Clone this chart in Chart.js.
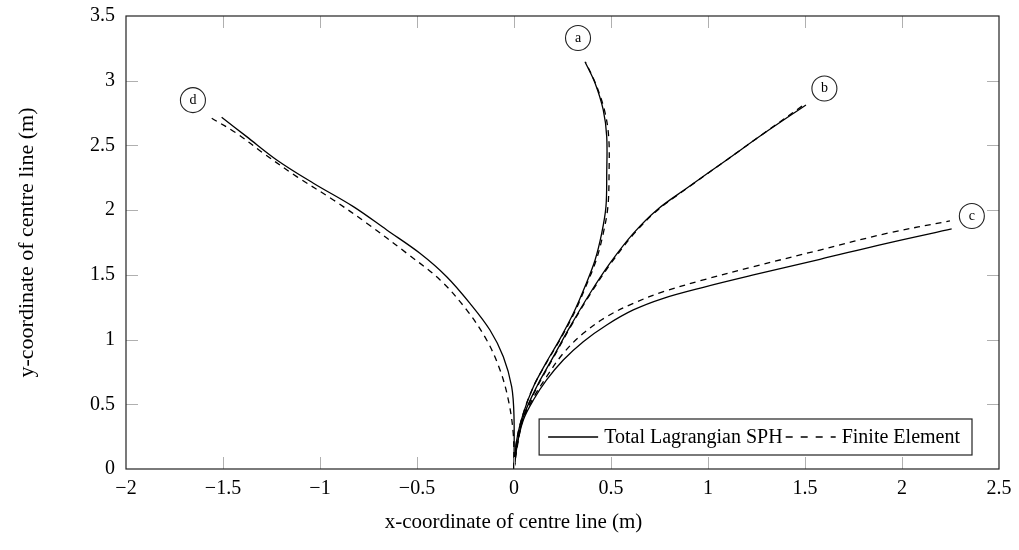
<!DOCTYPE html>
<html>
<head>
<meta charset="utf-8">
<script src="https://cdn.jsdelivr.net/npm/chart.js@4/dist/chart.umd.min.js"></script>
<style>
  html, body { margin: 0; padding: 0; background: #fff; }
  #wrap { width: 1019px; height: 550px; }
</style>
</head>
<body>
<div id="wrap"><canvas id="chart-deflection"></canvas></div>
<script>
// centre line coordinates [x, y] in metres
const sphA = [[0,0],[0.014,0.224],[0.048,0.43],[0.10,0.636],[0.165,0.82],[0.235,1.0],[0.306,1.203],[0.366,1.41],[0.418,1.615],[0.452,1.82],[0.474,2.027],[0.478,2.285],[0.478,2.568],[0.46,2.774],[0.418,2.98],[0.366,3.147]];
const feA  = [[0,0],[0.014,0.224],[0.048,0.43],[0.10,0.636],[0.167,0.82],[0.238,1.0],[0.31,1.203],[0.37,1.41],[0.424,1.615],[0.46,1.82],[0.484,2.027],[0.49,2.285],[0.488,2.568],[0.466,2.774],[0.42,2.98],[0.37,3.14]];

const sphB = [[0,0],[0.018,0.2],[0.048,0.404],[0.117,0.636],[0.203,0.868],[0.289,1.10],[0.392,1.358],[0.495,1.59],[0.615,1.82],[0.735,2.0],[0.89,2.169],[1.096,2.388],[1.302,2.607],[1.505,2.813]];
const feB  = [[0,0],[0.02,0.2],[0.05,0.404],[0.12,0.636],[0.206,0.868],[0.292,1.10],[0.396,1.358],[0.50,1.59],[0.62,1.82],[0.74,2.0],[0.895,2.172],[1.10,2.392],[1.305,2.612],[1.50,2.82]];

const sphC = [[0,0],[0.015,0.18],[0.048,0.379],[0.10,0.533],[0.168,0.688],[0.254,0.842],[0.357,0.984],[0.478,1.113],[0.615,1.229],[0.77,1.319],[0.976,1.404],[1.234,1.499],[1.577,1.62],[1.921,1.744],[2.256,1.855]];
const feC  = [[0,0],[0.015,0.19],[0.048,0.39],[0.10,0.55],[0.168,0.713],[0.254,0.894],[0.357,1.048],[0.478,1.177],[0.615,1.28],[0.77,1.37],[0.976,1.461],[1.234,1.563],[1.577,1.692],[1.921,1.82],[2.247,1.917]];

const sphD = [[0,0],[0,0.404],[-0.012,0.636],[-0.055,0.868],[-0.124,1.074],[-0.227,1.28],[-0.347,1.486],[-0.485,1.667],[-0.656,1.847],[-0.828,2.027],[-1.034,2.208],[-1.223,2.388],[-1.378,2.568],[-1.507,2.718]];
const feD  = [[0,0],[-0.004,0.276],[-0.029,0.533],[-0.072,0.765],[-0.141,0.997],[-0.244,1.229],[-0.381,1.461],[-0.553,1.667],[-0.759,1.899],[-0.931,2.079],[-1.12,2.259],[-1.292,2.44],[-1.43,2.594],[-1.558,2.71]];

// case labels in circles
const caseNames = ['a', 'b', 'c', 'd'];
const caseX = [0.33, 1.60, 2.36, -1.655];
const caseY = [3.33, 2.94, 1.955, 2.85];

const seriesNames = ['Total Lagrangian SPH', 'Finite Element'];
const xTitle = 'x-coordinate of centre line (m)';
const yTitle = 'y-coordinate of centre line (m)';

const SERIF = '"Liberation Serif", "DejaVu Serif", serif';

function toPoints(arr) {
    return arr.map(p => ({ x: p[0], y: p[1] }));
}

function makeSet(label, arr, dashed) {
    return {
        label: label,
        data: toPoints(arr),
        showLine: true,
        borderColor: '#000',
        borderWidth: 1.3,
        borderDash: dashed ? [6, 5] : [],
        pointRadius: 0,
        tension: 0.35,
        fill: false,
    };
}

const minusFix = v => String(v).replace('-', '\u2212');

// frame with inward ticks, like pgfplots
const framePlugin = {
    id: 'frame',
    afterDatasetsDraw(chart) {
        const { ctx, chartArea: ca, scales } = chart;
        const tl = 12;
        ctx.save();
        ctx.strokeStyle = '#b0b0b0';
        ctx.lineWidth = 1;
        ctx.beginPath();
        scales.x.ticks.forEach(t => {
            const px = Math.round(scales.x.getPixelForValue(t.value)) + 0.5;
            if (px <= ca.left + 1 || px >= ca.right - 1) return;
            ctx.moveTo(px, ca.bottom); ctx.lineTo(px, ca.bottom - tl);
            ctx.moveTo(px, ca.top); ctx.lineTo(px, ca.top + tl);
        });
        scales.y.ticks.forEach(t => {
            const py = Math.round(scales.y.getPixelForValue(t.value)) + 0.5;
            if (py <= ca.top + 1 || py >= ca.bottom - 1) return;
            ctx.moveTo(ca.left, py); ctx.lineTo(ca.left + tl, py);
            ctx.moveTo(ca.right, py); ctx.lineTo(ca.right - tl, py);
        });
        ctx.stroke();

        ctx.strokeStyle = '#222';
        ctx.lineWidth = 1.2;
        ctx.strokeRect(ca.left, ca.top, ca.right - ca.left, ca.bottom - ca.top);

        // circled case labels
        ctx.lineWidth = 1.1;
        ctx.font = '14px ' + SERIF;
        ctx.textAlign = 'center';
        ctx.textBaseline = 'middle';
        ctx.fillStyle = '#000';
        caseNames.forEach((n, i) => {
            const cx = scales.x.getPixelForValue(caseX[i]);
            const cy = scales.y.getPixelForValue(caseY[i]);
            ctx.beginPath();
            ctx.arc(cx, cy, 12.5, 0, Math.PI * 2);
            ctx.fillStyle = '#fff';
            ctx.fill();
            ctx.stroke();
            ctx.fillStyle = '#000';
            ctx.fillText(n, cx, cy);
        });

        // legend box bottom right
        ctx.font = '20px ' + SERIF;
        const w1 = ctx.measureText(seriesNames[0]).width;
        const w2 = ctx.measureText(seriesNames[1]).width;
        const sample = 50;
        const boxW = 9 + sample + 6 + w1 + 3 + sample + 6 + w2 + 12;
        const boxH = 36;
        const bx = ca.right - 27 - boxW;
        const by = ca.bottom - 14 - boxH;
        ctx.fillStyle = '#fff';
        ctx.fillRect(bx, by, boxW, boxH);
        ctx.strokeStyle = '#222';
        ctx.lineWidth = 1.2;
        ctx.strokeRect(bx, by, boxW, boxH);
        const my = by + boxH / 2;
        let x = bx + 9;
        ctx.strokeStyle = '#000';
        ctx.lineWidth = 1.3;
        ctx.beginPath(); ctx.moveTo(x, my); ctx.lineTo(x + sample, my); ctx.stroke();
        x += sample + 6;
        ctx.fillStyle = '#000';
        ctx.textAlign = 'left';
        ctx.fillText(seriesNames[0], x, my + 1);
        x += w1 + 3;
        ctx.setLineDash([7, 8]);
        ctx.beginPath(); ctx.moveTo(x, my); ctx.lineTo(x + sample, my); ctx.stroke();
        ctx.setLineDash([]);
        x += sample + 6;
        ctx.fillText(seriesNames[1], x, my + 1);

        // x axis title, sits under the x = 0 tick in the original
        ctx.font = '21px ' + SERIF;
        ctx.textAlign = 'center';
        ctx.fillText(xTitle, chart.width / 2 + 4, 522);
        ctx.restore();
    }
};

$ = id => document.getElementById(id);

new Chart($('chart-deflection'), {
    type: 'scatter',
    data: {
        datasets: [
            makeSet(seriesNames[0] + ' a', sphA, false),
            makeSet(seriesNames[1] + ' a', feA, true),
            makeSet(seriesNames[0] + ' b', sphB, false),
            makeSet(seriesNames[1] + ' b', feB, true),
            makeSet(seriesNames[0] + ' c', sphC, false),
            makeSet(seriesNames[1] + ' c', feC, true),
            makeSet(seriesNames[0] + ' d', sphD, false),
            makeSet(seriesNames[1] + ' d', feD, true),
        ],
    },
    options: {
        responsive: true,
        maintainAspectRatio: false,
        animation: false,
        layout: { padding: { top: 16, right: 20, left: 0, bottom: 0 } },
        plugins: {
            legend: { display: false },
            tooltip: { enabled: false },
        },
        scales: {
            x: {
                type: 'linear',
                min: -2,
                max: 2.5,
                grid: { display: false, drawTicks: false },
                border: { display: false },
                ticks: {
                    stepSize: 0.5,
                    padding: 8,
                    color: '#000',
                    font: { family: SERIF, size: 20 },
                    maxRotation: 0,
                    callback: v => minusFix(v),
                },
                afterFit: s => { s.height = 81; s.paddingLeft = 0; s.paddingRight = 0; },
            },
            y: {
                type: 'linear',
                min: 0,
                max: 3.5,
                grid: { display: false, drawTicks: false },
                border: { display: false },
                ticks: {
                    stepSize: 0.5,
                    padding: 11,
                    color: '#000',
                    font: { family: SERIF, size: 20 },
                    callback: v => minusFix(v),
                },
                title: {
                    display: true,
                    text: yTitle,
                    color: '#000',
                    font: { family: SERIF, size: 22 },
                    padding: { top: 14, bottom: 0 },
                },
                afterFit: s => { s.width = 126; s.paddingTop = 0; s.paddingBottom = 0; },
            },
        },
    },
    plugins: [framePlugin],
});
</script>
</body>
</html>
